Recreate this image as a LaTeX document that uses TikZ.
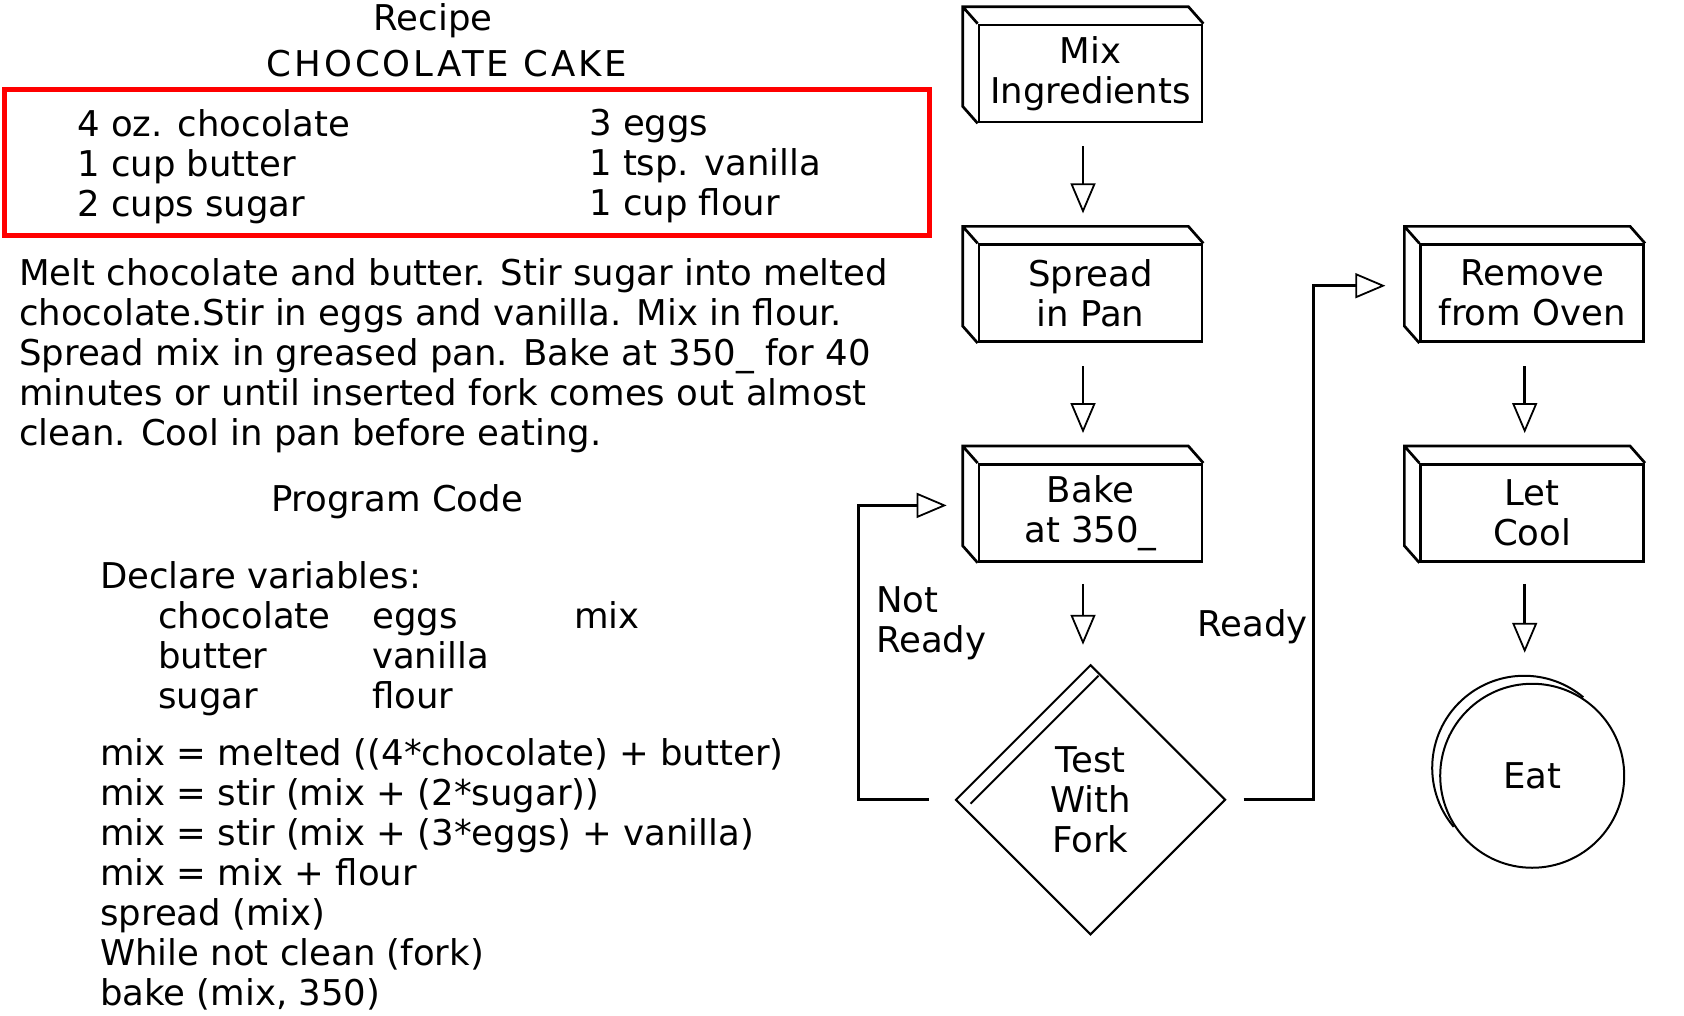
\documentclass[tikz,border=0pt]{standalone}
\usepackage{fontspec}
\setmainfont{DejaVu Sans}
\usetikzlibrary{positioning,calc,shapes.geometric,arrows.meta}

\begin{document}
\begin{tikzpicture}[x=1pt,y=-1pt,node distance=120pt,
    every node/.style={font=\fontsize{35.5}{40}\selectfont,inner sep=0pt},
    txt/.style={anchor=north west,align=left},
    box/.style={draw,line width=2.7pt,minimum width=223pt,minimum height=97pt,align=center,
        append after command={\pgfextra{\draw[line width=2.7pt]
            (\tikzlastnode.south west) -- ++(-15,-17) |- ($(\tikzlastnode.north east)+(-15,-17)$)
            -- (\tikzlastnode.north east)
            (\tikzlastnode.north west) -- ++(-15,-17);}}},
    flow/.style={line width=2.7pt,-{Triangle[open,length=30pt,width=25pt,line width=1.8pt]}}]
    \useasboundingbox (0,0) rectangle (1684,1015);

    % recipe
    \node (recipe) at (433,21) {Recipe};
    \node (cake) at (447,64) {\addfontfeature{LetterSpace=8.5}CHOCOLATE CAKE};
    \draw[red,line width=5pt] (4,89) rectangle (929,235);
    \node[txt] (ingr1) at (77,109) {4 oz. chocolate\\1 cup butter\\2 cups sugar};
    \node[txt] (ingr2) at (589,109) {3 eggs\\1 tsp. vanilla\\1 cup flour};
    \node[txt] (steps) at (19,258) {Melt chocolate and butter.  Stir sugar into melted\\
        chocolate.Stir in eggs and vanilla.  Mix in flour.\\
        Spread mix in greased pan.  Bake at 350\_ for 40\\
        minutes or until inserted fork comes out almost\\
        clean. Cool in pan before eating.};

    % program code
    \node (progcode) at (397,502) {Program Code};
    \node[txt] (declare) at (100,561) {Declare variables:};
    \node[txt] (var1) at (158,601) {chocolate\\butter\\sugar};
    \node[txt] (var2) at (372,601) {\vphantom{chocolate}eggs\\vanilla\\flour};
    \node[txt] (var3) at (574,601) {\vphantom{chocolate}mix};
    \node[txt] (code) at (100,738) {mix = melted  ((4*chocolate) + butter)\\
        mix = stir (mix + (2*sugar))\\
        mix = stir (mix + (3*eggs) + vanilla)\\
        mix = mix + flour\\
        spread (mix)\\
        While not clean (fork)\\
        bake (mix, 350)};

    % flow chart
    \node[box] (mix) at (1090.5,73.5) {Mix\\Ingredients};
    \node[box,below=of mix] (spread) {Spread\\in Pan};
    \node[box,below=of spread] (bake) {Bake\\at 350\_};
    \node[diamond,draw,line width=2pt,minimum width=270pt,minimum height=270pt,align=center,
        below=101pt of bake] (test) {Test\\With\\Fork};
    \draw[line width=2pt] ($(test.north)+(8,12)$) -- ($(test.west)+(16,4)$);
    \node[box,right=216pt of spread] (remove) {Remove\\from Oven};
    \node[box,below=of remove] (cool) {Let\\Cool};
    \node[circle,draw,line width=2pt,minimum size=184pt,below=of cool] (eat) {Eat};
    \draw[line width=2pt] ($(eat.center)+(-8,-8)$) ++(140:92) arc[start angle=140,end angle=310,radius=92];

    \draw[flow,shorten <=23pt,shorten >=30pt] ([xshift=-7.5pt]mix.south) -- ([xshift=-7.5pt]spread.north);
    \draw[flow,shorten <=23pt,shorten >=30pt] ([xshift=-7.5pt]spread.south) -- ([xshift=-7.5pt]bake.north);
    \draw[flow,shorten <=21pt,shorten >=19pt] ([xshift=-7.5pt]bake.south) -- ([xshift=-7.5pt]test.north);
    \draw[flow,shorten <=23pt,shorten >=30pt] ([xshift=-7.5pt]remove.south) -- ([xshift=-7.5pt]cool.north);
    \draw[flow,shorten <=21pt,shorten >=30pt] ([xshift=-7.5pt]cool.south) -- ([xshift=-7.5pt]eat.north);
    \draw[flow,shorten <=26pt,shorten >=31pt] (test.west) -- ++(-96,0) |- ([yshift=7.5pt]bake.west);
    \draw[flow,shorten <=17pt,shorten >=34pt] (test.east) -- ++(87,0) |- ([yshift=7.5pt]remove.west);
    \node[txt] (notready) at (876,586) {Not\\Ready};
    \node[anchor=north east] (ready) at (1308,609) {Ready};
\end{tikzpicture}
\end{document}
